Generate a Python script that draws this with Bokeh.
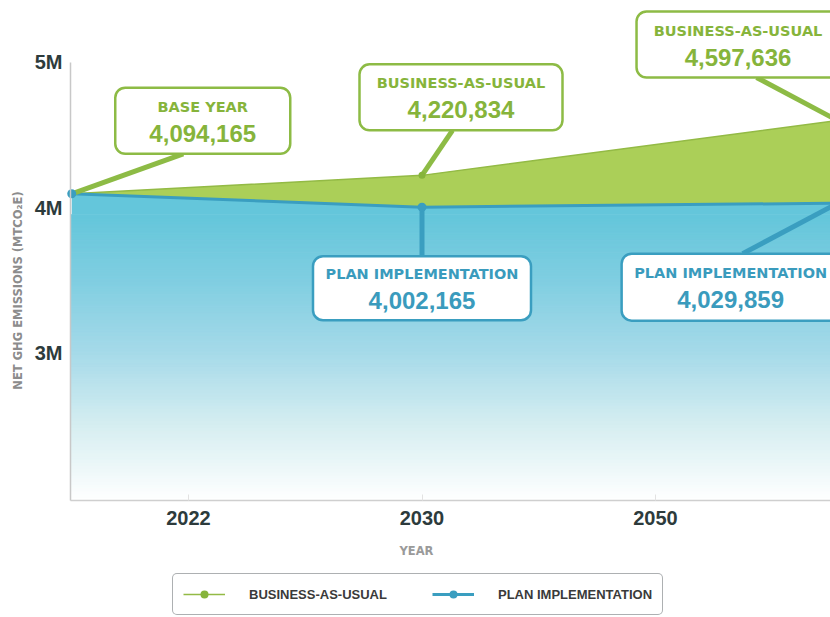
import numpy as np
from bokeh.plotting import figure
from bokeh.models import BoxAnnotation, Label, Legend, LegendItem, FixedTicker, Range1d
from bokeh.embed import file_html
from bokeh.resources import INLINE

# ---------------- data ----------------
x_index = [0.5, 2.0, 3.78]            # base year, 2030, end of horizon (index scale)
bau = [4094165, 4220834, 4597636]      # business-as-usual
plan = [4094165, 4002165, 4029859]     # plan implementation
x_ticks = [1, 2, 3]
x_tick_labels = ["2022", "2030", "2050"]
y_ticks = [3000000, 4000000, 5000000]
y_tick_labels = ["3M", "4M", "5M"]
series_names = ["BUSINESS-AS-USUAL", "PLAN IMPLEMENTATION"]
callout_titles = ["BASE YEAR", "BUSINESS-AS-USUAL", "PLAN IMPLEMENTATION",
                  "BUSINESS-AS-USUAL", "PLAN IMPLEMENTATION"]

# ---------------- layout (frame = whole canvas) ----------------
W, H = 830, 617
PX_X = 233.5                 # px per index step
PX_Y = 145.5 / 1e6           # px per unit value
X1_PX, Y4M_PX = 188, 207     # where index 1 / value 4M sit on the canvas
x_start = 1 - X1_PX / PX_X
x_end = 1 + (W - X1_PX) / PX_X
y_end = 4e6 + Y4M_PX / PX_Y
y_start = y_end - H / PX_Y
x_left = 1 - (X1_PX - 70) / PX_X          # plot-area left edge
y_floor = 4e6 - (500 - Y4M_PX) / PX_Y     # plot-area bottom edge

def px2x(px):
    return 1 + (px - X1_PX) / PX_X

def px2y(py):
    return 4e6 - (py - Y4M_PX) / PX_Y

GREEN = "#8dbb45"
GREEN_TXT = "#86b43b"
GREEN_FILL = "#abcf58"
BLUE = "#3a9ec0"
BLUE_TXT = "#3a9bbd"

p = figure(width=W, height=H, x_range=Range1d(x_start, x_end), y_range=Range1d(y_start, y_end),
           output_backend="svg", toolbar_location=None,
           min_border_left=0, min_border_right=0, min_border_top=0, min_border_bottom=0)
p.outline_line_color = None
p.grid.visible = False
p.background_fill_color = "white"
p.border_fill_color = "white"

# ---------------- gradient under plan line ----------------
def hex2rgb(h):
    h = h.lstrip("#")
    return np.array([int(h[i:i + 2], 16) for i in (0, 2, 4)], dtype=float)

grad_top = 3.95e6
stop_v = np.array([y_floor, 2.5e6, 3.0e6, 3.5e6, grad_top])
stop_c = np.array([hex2rgb(c) for c in ["#ffffff", "#d6eef1", "#a6dae9", "#80cee1", "#64c6db"]])
N = 90
edges = np.linspace(y_floor, grad_top, N + 1)
mids = 0.5 * (edges[:-1] + edges[1:])
cols = []
for m in mids:
    rgb = [np.interp(m, stop_v, stop_c[:, k]) for k in range(3)]
    cols.append("#%02x%02x%02x" % tuple(int(round(v)) for v in rgb))
p.quad(left=x_left, right=x_index[-1], bottom=edges[:-1], top=edges[1:],
       fill_color=cols, line_color=cols, line_width=1)
p.varea(x=x_index, y1=[grad_top] * len(x_index), y2=plan, fill_color="#64c6db")

# green wedge between plan and BAU
p.varea(x=x_index, y1=plan, y2=bau, fill_color=GREEN_FILL)

bau_line = p.line(x_index, bau, line_color="#93ba45", line_width=1.5)
plan_line = p.line(x_index, plan, line_color=BLUE, line_width=3)

# ---------------- callouts ----------------
# (x, y, box dx px, box dy px (down), w, h, conn end rel. to box center px, colours, value)
specs = [
    (x_index[0], bau[0], 131, -73, 175, 66, (-19.5, 33), GREEN, GREEN_TXT, bau[0]),
    (x_index[1], bau[1], 39, -78, 203, 66, (-8.5, 33), GREEN, GREEN_TXT, bau[1]),
    (x_index[1], plan[1], 0, 81, 218, 64, (0, -32), BLUE, BLUE_TXT, plan[1]),
    (x_index[2], bau[2], -99.6, -76, 203, 66, (18.5, 33), GREEN, GREEN_TXT, bau[2]),
    (x_index[2], plan[2], -107, 84, 218, 67, (12, -33.5), BLUE, BLUE_TXT, plan[2]),
]
for (x, y, dx, dy, w, h, (cx, cy), col, tcol, v), title in zip(specs, callout_titles):
    bx = x + dx / PX_X
    by = y - dy / PX_Y
    ex = bx + cx / PX_X
    ey = by - cy / PX_Y
    p.segment(x0=[x], y0=[y], x1=[ex], y1=[ey], line_color=col, line_width=5)

# points
bau_pts = p.scatter(x_index, bau, size=7, fill_color="#86b43b", line_color=None)
plan_pts = p.scatter(x_index, plan, size=9, fill_color=BLUE, line_color=None)

for (x, y, dx, dy, w, h, (cx, cy), col, tcol, v), title in zip(specs, callout_titles):
    bx = x + dx / PX_X
    by = y - dy / PX_Y
    p.add_layout(BoxAnnotation(left=bx - w / 2 / PX_X, right=bx + w / 2 / PX_X,
                               bottom=by - h / 2 / PX_Y, top=by + h / 2 / PX_Y,
                               fill_color="white", fill_alpha=1.0, line_color=col,
                               line_width=2.5, line_alpha=1.0, border_radius=10))
for (x, y, dx, dy, w, h, (cx, cy), col, tcol, v), title in zip(specs, callout_titles):
    bx = x + dx / PX_X
    by = y - dy / PX_Y
    p.add_layout(Label(x=bx, y=by, y_offset=14, text=title, text_align="center",
                       text_baseline="middle", text_font="DejaVu Sans", text_font_style="bold",
                       text_font_size="14.5px", text_color=tcol))
    p.add_layout(Label(x=bx, y=by, y_offset=-12.5, text=f"{v:,}", text_align="center",
                       text_baseline="middle", text_font="Liberation Sans", text_font_style="bold",
                       text_font_size="24px", text_color=tcol))

# ---------------- axes (fixed inside the canvas-wide frame) ----------------
xa = p.xaxis[0]
xa.fixed_location = y_floor
xa.bounds = (x_left, x_end)
xa.ticker = FixedTicker(ticks=x_ticks)
xa.major_label_overrides = dict(zip(x_ticks, x_tick_labels))
xa.axis_line_color = "#cfcfcf"
xa.axis_line_width = 1.5
xa.major_tick_in = 6
xa.major_tick_out = 0
xa.major_tick_line_color = "#e2e2e2"
xa.minor_tick_line_color = None
xa.major_label_standoff = 10
xa.major_label_text_font = "Liberation Sans"
xa.major_label_text_font_style = "bold"
xa.major_label_text_font_size = "20px"
xa.major_label_text_color = "#2d3b3c"

ya = p.yaxis[0]
ya.fixed_location = x_left
ya.bounds = (y_floor, 5e6)
ya.ticker = FixedTicker(ticks=y_ticks)
ya.major_label_overrides = dict(zip(y_ticks, y_tick_labels))
ya.axis_line_color = "#c8c8c8"
ya.axis_line_width = 1.5
ya.major_tick_in = 0
ya.major_tick_out = 0
ya.minor_tick_line_color = None
ya.major_label_standoff = 8
ya.major_label_text_font = "Liberation Sans"
ya.major_label_text_font_style = "bold"
ya.major_label_text_font_size = "20px"
ya.major_label_text_color = "#2d3b3c"

# axis titles
p.add_layout(Label(x=px2x(17), y=px2y(290), angle=np.pi / 2,
                   text="NET GHG EMISSIONS (MTCO\u2082E)", text_align="center", text_baseline="middle",
                   text_font="DejaVu Sans", text_font_style="bold", text_font_size="11.5px",
                   text_color="#8c8c8c"))
p.add_layout(Label(x=px2x(416), y=px2y(550), text="YEAR",
                   text_align="center", text_baseline="middle",
                   text_font="DejaVu Sans", text_font_style="bold", text_font_size="11.5px",
                   text_color="#9a9a9a"))

# ---------------- legend ----------------
legend = Legend(items=[LegendItem(label=series_names[0], renderers=[bau_line, bau_pts]),
                       LegendItem(label=series_names[1], renderers=[plan_line, plan_pts])],
                location=(172, 2), orientation="horizontal",
                label_text_font="Liberation Sans", label_text_font_style="bold",
                label_text_font_size="13px", label_text_color="#3a3a3a",
                glyph_width=42, glyph_height=20, label_standoff=24, spacing=45,
                padding=10, margin=0, border_line_color="#5b6166", border_line_width=1.2,
                border_radius=5, background_fill_color="white", background_fill_alpha=1.0)
p.add_layout(legend)

open("out.html", "w").write(file_html(p, INLINE))
